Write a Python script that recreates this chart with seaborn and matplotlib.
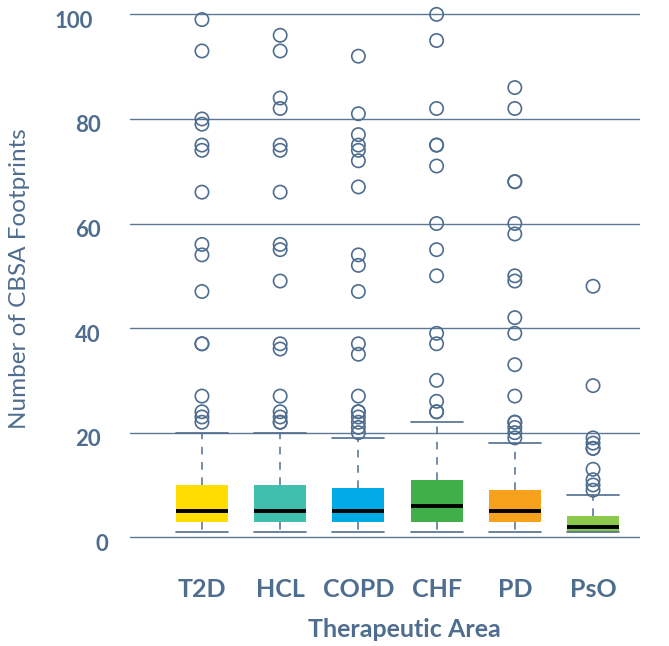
import matplotlib
matplotlib.use("Agg")
import matplotlib.pyplot as plt
from matplotlib.transforms import ScaledTranslation
import seaborn as sns
import pandas as pd

# Therapeutic areas and their box colours
areas = ["T2D", "HCL", "COPD", "CHF", "PD", "PsO"]
box_colors = ["#FFDD00", "#40BFAE", "#00AAE4", "#40AE49", "#F8A11D", "#8CC84B"]

# Five-number summaries per area
q1 = [3, 3, 3, 3, 3, 1]
medians = [5, 5, 5, 6, 5, 2]
q3 = [10, 10, 9.5, 11, 9, 4]
whisker_low = [1, 1, 1, 1, 1, 1]
whisker_high = [20, 20, 19, 22, 18, 8]

# Outlying CBSA footprint counts per area
outliers_t2d = [99, 93, 80, 79, 75, 74, 66, 56, 54, 47, 37, 37, 27, 24, 23, 22]
outliers_hcl = [96, 93, 84, 82, 75, 74, 66, 56, 55, 49, 37, 36, 27, 24, 23, 22, 22]
outliers_copd = [92, 81, 77, 75, 74, 72, 67, 54, 52, 47, 37, 35, 27, 24, 24, 23, 22, 21, 20]
outliers_chf = [100, 95, 82, 75, 75, 71, 60, 55, 50, 39, 37, 30, 26, 24, 24]
outliers_pd = [86, 82, 68, 68, 60, 58, 50, 49, 42, 39, 33, 27, 22, 22, 21, 20, 19]
outliers_pso = [48, 29, 19, 18, 17, 17, 13, 11, 10, 9]
outliers = [outliers_t2d, outliers_hcl, outliers_copd, outliers_chf, outliers_pd, outliers_pso]

y_ticks = [0, 20, 40, 60, 80, 100]

slate = "#4F6D8E"
grid_col = "#5B7897"

sns.set_theme(style="white")
plt.rcParams["font.family"] = ["Lato", "DejaVu Sans"]

fig = plt.figure(figsize=(6.69, 6.46), dpi=100)
ax = fig.add_axes([0.1943, 0.1562, 0.7623, 0.8337])

positions = list(range(len(areas)))
stats = [
    dict(label=a, q1=lo, med=m, q3=hi, whislo=wl, whishi=wh, fliers=[])
    for a, lo, m, hi, wl, wh in zip(areas, q1, medians, q3, whisker_low, whisker_high)
]
bp = ax.bxp(
    stats, positions=positions, widths=0.665, patch_artist=True, showfliers=False,
    boxprops=dict(linewidth=0),
    medianprops=dict(color="black", linewidth=2.8, solid_capstyle="butt"),
    whiskerprops=dict(color=slate, linewidth=1.1, linestyle=(0, (5, 5))),
    capprops=dict(color=slate, linewidth=1.2),
    capwidths=0.665,
    manage_ticks=False,
)
for patch, c in zip(bp["boxes"], box_colors):
    patch.set_facecolor(c)
    patch.set_edgecolor("none")

# Outliers drawn as hollow circles on each area's position
out_df = pd.DataFrame(
    [(i, v) for i, vals in enumerate(outliers) for v in vals], columns=["pos", "value"]
)
sns.scatterplot(
    data=out_df, x="pos", y="value", ax=ax, marker="o", s=92,
    facecolors="none", edgecolor=slate, linewidth=1.2, zorder=4, clip_on=False,
    legend=False,
)

ax.set_xlim(-0.92, 5.60)
ax.set_ylim(-1.5, 101.5)
ax.set_xticks(positions)
ax.set_xticklabels(areas)
ax.set_yticks(y_ticks)
ax.set_yticklabels([str(t) for t in y_ticks])

for s in ax.spines.values():
    s.set_visible(False)
ax.yaxis.grid(True, color=grid_col, linewidth=1.0)
ax.xaxis.grid(False)
ax.set_axisbelow(True)

ax.tick_params(axis="x", length=13, width=1.0, color=slate, pad=11,
               labelsize=18, labelcolor=slate)
ax.tick_params(axis="y", length=0, pad=21, labelsize=16, labelcolor=slate)
for lab in ax.get_xticklabels() + ax.get_yticklabels():
    lab.set_fontweight("bold")

# y tick labels sit a little below their gridlines, staggered by digit count
x_shift = {0: 7, 100: -8}
for t, lab in zip(y_ticks, ax.get_yticklabels()):
    dx = x_shift.get(t, 0) / 100
    lab.set_transform(lab.get_transform() + ScaledTranslation(dx, -5 / 100, fig.dpi_scale_trans))

ax.set_xlabel("Therapeutic Area", fontsize=18, fontweight="bold", color=slate)
ax.set_ylabel("Number of CBSA Footprints", fontsize=17.5, color=slate)
ax.xaxis.set_label_coords(0.538, -0.135)
ax.yaxis.set_label_coords(-0.196, 0.495)

fig.savefig("out.png", dpi=100)
